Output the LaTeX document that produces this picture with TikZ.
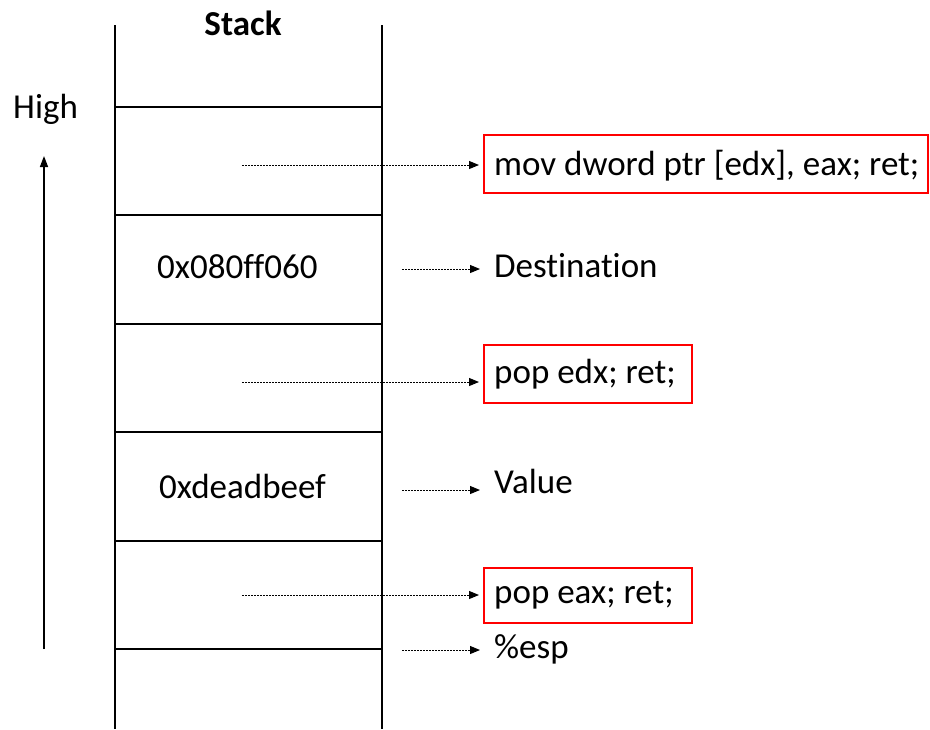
\documentclass[tikz,border=0pt]{standalone}
\usepackage{fontspec}
\setmainfont[Ligatures={NoCommon,NoContextual}]{Carlito}
\usetikzlibrary{arrows.meta}
\tikzset{
  stackline/.style={line width=2pt, black},
  dotarrow/.style={line width=1pt, dash pattern=on 2pt off 1pt, -{Triangle[length=10pt,width=8pt]}},
  gadget/.style={draw=red, line width=2pt, inner sep=0pt},
  lbl/.style={anchor=base west, inner sep=0pt, font=\fontsize{35}{41}\selectfont},
  uparrow/.style={line width=1.5pt, -{Triangle[length=11pt,width=8pt]}}
}
\begin{document}
\begin{tikzpicture}[x=1pt,y=-1pt]
\useasboundingbox (0,0) rectangle (930,729);
% stack frame
\coordinate (tl) at (115,25);
\coordinate (bl) at (115,729);
\coordinate (tr) at (382,25);
\coordinate (br) at (382,729);
\draw[stackline] (tl) -- (bl);
\draw[stackline] (tr) -- (br);
\foreach \yy/\nm in {107/h1,215/h2,324/h3,432/h4,541/h5,649/h6}{
  \coordinate (\nm l) at (115,\yy);
  \coordinate (\nm r) at (382,\yy);
  \draw[stackline] (\nm l) -- (\nm r);
}
% titles
\node[lbl, anchor=base, font=\fontsize{35}{41}\selectfont\bfseries] (stack) at (243,35) {Stack};
\node[lbl] (high) at (13,118) {High};
\coordinate (upS) at (44,649);
\coordinate (upE) at (44,156);
\draw[uparrow] (upS) -- (upE);
% cell contents
\node[lbl] (dest) at (157,278) {0x080ff060};
\node[lbl] (val) at (159,498) {0xdeadbeef};
% gadget boxes
\node[gadget, minimum width=444pt, minimum height=58pt] (b1) at (706,164) {};
\node[lbl] (t1) at (494,175) {mov dword ptr [edx], eax; ret;};
\node[gadget, minimum width=208pt, minimum height=58pt] (b2) at (588,374) {};
\node[lbl] (t2) at (494,383) {pop edx; ret;};
\node[gadget, minimum width=208pt, minimum height=55pt] (b3) at (588,595.5) {};
\node[lbl] (t3) at (494,603) {pop eax; ret;};
% plain labels
\node[lbl] (tdest) at (494,277) {Destination};
\node[lbl] (tval) at (494,493) {Value};
\node[lbl] (tesp) at (494,658) {\%esp};
% arrows
\coordinate (s1) at (242,165);
\coordinate (s2) at (402,269);
\coordinate (s3) at (242,382);
\coordinate (s4) at (402,490);
\coordinate (s5) at (242,595);
\coordinate (s6) at (402,650);
\draw[dotarrow, shorten >=4pt] (s1) -- (s1 -| b1.west);
\draw[dotarrow, shorten >=14pt] (s2) -- (s2 -| tdest.west);
\draw[dotarrow, shorten >=4pt] (s3) -- (s3 -| b2.west);
\draw[dotarrow, shorten >=14pt] (s4) -- (s4 -| tval.west);
\draw[dotarrow, shorten >=4pt] (s5) -- (s5 -| b3.west);
\draw[dotarrow, shorten >=14pt] (s6) -- (s6 -| tesp.west);
\end{tikzpicture}
\end{document}
